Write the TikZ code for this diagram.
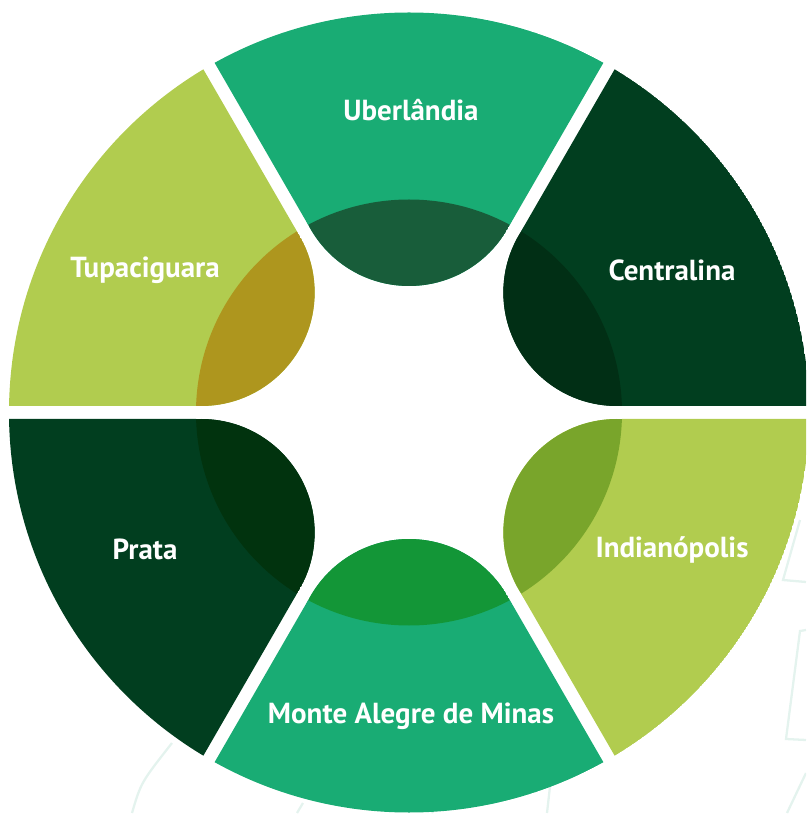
\documentclass[tikz,border=0pt]{standalone}
\usepackage{fontspec}
\setmainfont{PT Sans}
\usepackage{tikz}
\definecolor{ringteal}{HTML}{19AC74}
\definecolor{pine}{HTML}{013E1F}
\definecolor{lime}{HTML}{B1CC4F}
\definecolor{uberdark}{HTML}{185D3A}
\definecolor{centrdark}{HTML}{012F15}
\definecolor{indidark}{HTML}{79A52B}
\definecolor{montedark}{HTML}{139637}
\definecolor{pratadark}{HTML}{01330E}
\definecolor{tupadark}{HTML}{AE961E}
\definecolor{bgline}{HTML}{E4F3EE}
\tikzset{>=stealth,
  townlabel/.style={text=white,font=\bfseries\fontsize{16.5}{19}\selectfont},
  faintline/.style={draw=bgline,line width=1.3pt}}

\begin{document}
\begin{tikzpicture}[x=0.02cm,y=0.02cm]
  \useasboundingbox (-409,-401.5) rectangle (397,412.5);
  \clip (-409,-401.5) rectangle (397,412.5);
  % faint map lines behind the ring
  \draw[faintline] (391,-107.5)--(374,-167.5)--(397,-169.5);
  \draw[faintline] (397,-217.5)--(391,-218.5)--(377,-326.5)--(397,-327.5);
  \draw[faintline] (397,-360.5)--(378,-400.5);
  \draw[faintline] (-277,-400.5) .. controls (-268,-370) .. (-237,-330.5);
  \draw[faintline] (-112,-400.5)--(-106,-390.5);
  \draw[faintline] (21,-394.5)--(24,-400.5);
  \draw[faintline] (138,-400.5)--(144,-347.5);
  % the six sectors
  \foreach \ang/\lite/\shade in {90/ringteal/uberdark, 30/pine/centrdark, -30/lime/indidark,
      -90/ringteal/montedark, 210/pine/pratadark, 150/lime/tupadark}{
    \begin{scope}
      \clip (\ang:13) -- ++(\ang-30:600) -- ++(\ang+90:600) -- cycle;
      \clip (0,0) circle (400);
      \fill[\lite, even odd rule] (0,0) circle (400) (0,0) circle (213);
      \fill[\lite] (\ang:240) circle (113.5);
      \clip (0,0) circle (213);
      \fill[\shade] (\ang:240) circle (113.5);
    \end{scope}
  }
  \node[townlabel] (uber) at (2,302) {Uberlândia};
  \node[townlabel] (centr) at (263,142) {Centralina};
  \node[townlabel] (indi) at (263,-137) {Indianópolis};
  \node[townlabel] (monte) at (2,-304) {Monte Alegre de Minas};
  \node[townlabel] (prata) at (-264,-137) {Prata};
  \node[townlabel] (tupa) at (-264,142) {Tupaciguara};
\end{tikzpicture}
\end{document}
